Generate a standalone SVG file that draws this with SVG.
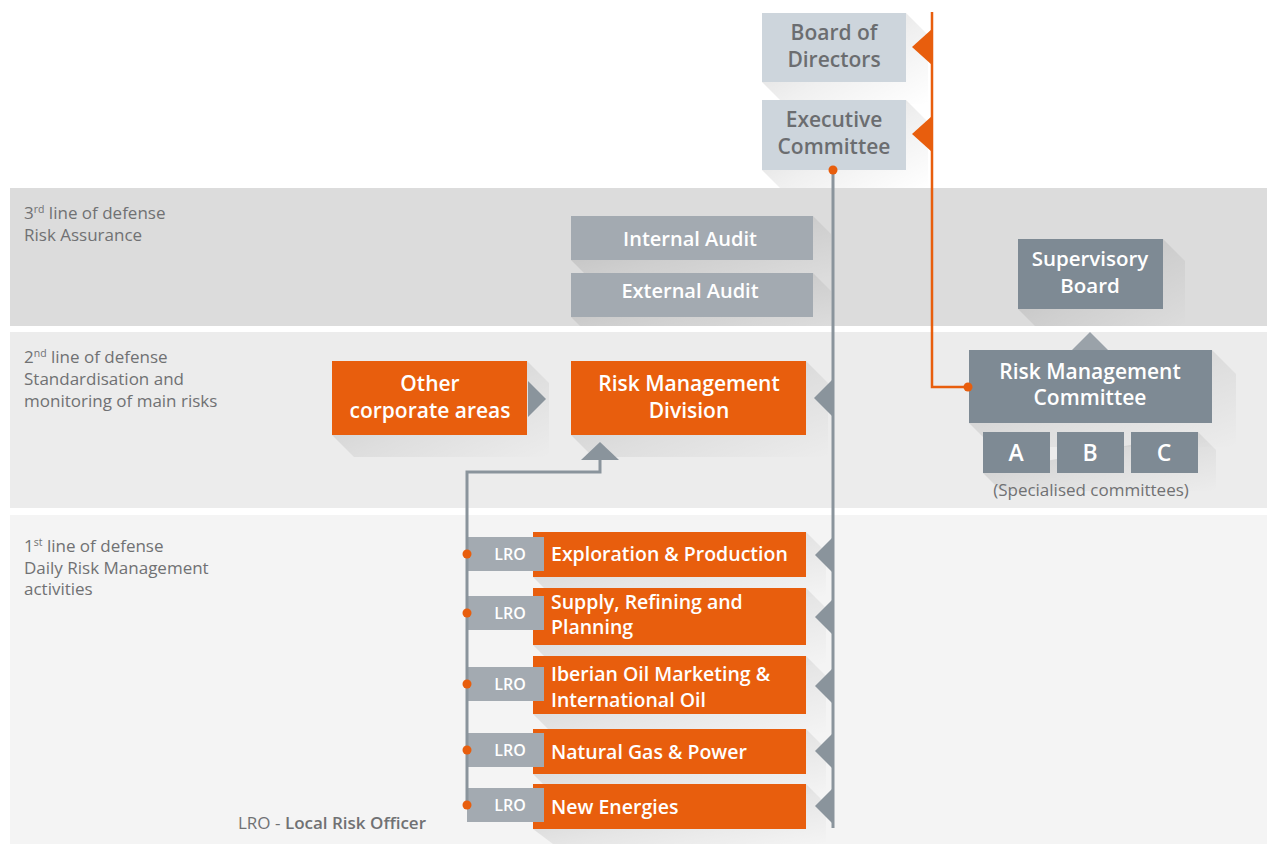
<svg xmlns="http://www.w3.org/2000/svg" width="1267" height="844" viewBox="0 0 1267 844">
<defs>
<linearGradient id="sh" x1="0" y1="0" x2="1" y2="1">
<stop offset="0" stop-color="#000" stop-opacity="0.16"/>
<stop offset="0.55" stop-color="#000" stop-opacity="0.06"/>
<stop offset="1" stop-color="#000" stop-opacity="0"/>
</linearGradient>
</defs>
<style>
.band-t{font-family:"Open Sans","Liberation Sans",sans-serif;font-size:17px;fill:#707173}
.lbl{font-family:"Open Sans","Liberation Sans",sans-serif;font-weight:600;text-anchor:middle}
.w{fill:#ffffff}
.g{fill:#6b6d70}
.biz{font-family:"Open Sans","Liberation Sans",sans-serif;font-weight:600;font-size:19.5px;fill:#ffffff}
.lro{font-family:"Open Sans","Liberation Sans",sans-serif;font-weight:600;font-size:16px;fill:#ffffff;text-anchor:middle}
.orange{fill:#e85e0d}
.light{fill:#cdd5dc}
.mid{fill:#a3aab1}
.dark{fill:#7e8a94}
.shadow{fill:url(#sh)}
.gline{stroke:#8a949c;stroke-width:3;fill:none}
.oline{stroke:#e85e0d;stroke-width:2.5;fill:none}
.gtri{fill:#8a949c}
.otri{fill:#e85e0d}
.dot{fill:#e85e0d}
</style>
<rect width="1267" height="844" fill="#ffffff"/>
<g id="bands">
<rect x="10" y="188" width="1257" height="138" fill="#dcdcdc"/>
<rect x="10" y="332" width="1257" height="176" fill="#ececec"/>
<rect x="10" y="515" width="1257" height="329" fill="#f4f4f4"/>
<text class="band-t" x="24" y="219">3<tspan font-size="10.5" dy="-6">rd</tspan><tspan dy="6"> line of defense</tspan></text>
<text class="band-t" x="24" y="241">Risk Assurance</text>
<text class="band-t" x="24" y="363">2<tspan font-size="10.5" dy="-6">nd</tspan><tspan dy="6"> line of defense</tspan></text>
<text class="band-t" x="24" y="385">Standardisation and</text>
<text class="band-t" x="24" y="407">monitoring of main risks</text>
<text class="band-t" x="24" y="552">1<tspan font-size="10.5" dy="-6">st</tspan><tspan dy="6"> line of defense</tspan></text>
<text class="band-t" x="24" y="574">Daily Risk Management</text>
<text class="band-t" x="24" y="595">activities</text>
</g>
<g id="shadows">
<polygon class="shadow" points="906,13 928,35 928,104 784,104 762,82"/>
<polygon class="shadow" points="906,100 928,122 928,188 780,188 762,170"/>
<polygon class="shadow" points="813,216 831,234 831,278 589,278 571,260"/>
<polygon class="shadow" points="813,273 831,291 831,326 580,326 571,317"/>
<polygon class="shadow" points="1163,239 1185,261 1185,326 1035,326 1018,309"/>
<polygon class="shadow" points="1212,350 1236,374 1236,447 993,447 969,423"/>
<polygon class="shadow" points="1198,432 1216,450 1216,491 1001,491 983,473"/>
<polygon class="shadow" points="527,361 549,383 549,457 354,457 332,435"/>
<polygon class="shadow" points="806,361 828,383 828,457 593,457 571,435"/>
<polygon class="shadow" points="806,532 826,552 826,597 553,597 533,577"/>
<polygon class="shadow" points="806,588 826,608 826,665 553,665 533,645"/>
<polygon class="shadow" points="806,656 826,676 826,734 553,734 533,714"/>
<polygon class="shadow" points="806,729 826,749 826,794 553,794 533,774"/>
<polygon class="shadow" points="806,784 826,804 826,844 553,844 533,829"/>
</g>
<g id="board">
<rect class="light" x="762" y="13" width="144" height="69"/>
<text class="lbl g" font-size="21" x="834" y="40">Board of</text>
<text class="lbl g" font-size="21" x="834" y="67">Directors</text>
</g>
<g id="executive">
<rect class="light" x="762" y="100" width="144" height="70"/>
<text class="lbl g" font-size="21" x="834" y="127">Executive</text>
<text class="lbl g" font-size="21" x="834" y="154">Committee</text>
</g>
<g id="internal-audit">
<rect class="mid" x="571" y="216" width="242" height="44"/>
<text class="lbl w" font-size="20" x="690" y="246">Internal Audit</text>
</g>
<g id="external-audit">
<rect class="mid" x="571" y="273" width="242" height="44"/>
<text class="lbl w" font-size="20" x="690" y="298">External Audit</text>
</g>
<g id="supervisory">
<rect class="dark" x="1018" y="239" width="145" height="70"/>
<text class="lbl w" font-size="20.5" x="1090" y="266">Supervisory</text>
<text class="lbl w" font-size="20.5" x="1090" y="293">Board</text>
</g>
<g id="rmc">
<rect class="dark" x="969" y="350" width="243" height="73"/>
<text class="lbl w" font-size="21" x="1090" y="379">Risk Management</text>
<text class="lbl w" font-size="21" x="1090" y="405">Committee</text>
</g>
<g id="committee-a">
<rect class="dark" x="983" y="432" width="67" height="41"/>
<text class="lbl w" font-size="23" x="1016" y="461">A</text>
</g>
<g id="committee-b">
<rect class="dark" x="1057" y="432" width="67" height="41"/>
<text class="lbl w" font-size="23" x="1090" y="461">B</text>
</g>
<g id="committee-c">
<rect class="dark" x="1131" y="432" width="67" height="41"/>
<text class="lbl w" font-size="23" x="1164" y="461">C</text>
</g>
<text class="band-t" text-anchor="middle" x="1091" y="496">(Specialised committees)</text>
<g id="other-corporate">
<rect class="orange" x="332" y="361" width="195" height="74"/>
<text class="lbl w" font-size="21" x="430" y="391">Other</text>
<text class="lbl w" font-size="21" x="430" y="418">corporate areas</text>
</g>
<g id="rmd">
<rect class="orange" x="571" y="361" width="235" height="74"/>
<text class="lbl w" font-size="21" x="689" y="391">Risk Management</text>
<text class="lbl w" font-size="21" x="689" y="418">Division</text>
</g>
<g id="ep">
<rect class="orange" x="533" y="532" width="273" height="45"/>
<rect class="mid" x="467" y="537" width="77" height="34"/>
<text class="lro" x="510" y="560">LRO</text>
<text class="biz" x="551" y="561">Exploration &amp; Production</text>
</g>
<g id="supply">
<rect class="orange" x="533" y="588" width="273" height="57"/>
<rect class="mid" x="467" y="596" width="77" height="34"/>
<text class="lro" x="510" y="619">LRO</text>
<text class="biz" x="551" y="609">Supply, Refining and</text>
<text class="biz" x="551" y="634">Planning</text>
</g>
<g id="iberian">
<rect class="orange" x="533" y="656" width="273" height="58"/>
<rect class="mid" x="467" y="667" width="77" height="34"/>
<text class="lro" x="510" y="690">LRO</text>
<text class="biz" font-size="19" x="551" y="681">Iberian Oil Marketing &amp;</text>
<text class="biz" font-size="19" x="551" y="707">International Oil</text>
</g>
<g id="gas">
<rect class="orange" x="533" y="729" width="273" height="45"/>
<rect class="mid" x="467" y="733" width="77" height="34"/>
<text class="lro" x="510" y="756">LRO</text>
<text class="biz" x="551" y="759">Natural Gas &amp; Power</text>
</g>
<g id="new-energies">
<rect class="orange" x="533" y="784" width="273" height="45"/>
<rect class="mid" x="467" y="788" width="77" height="34"/>
<text class="lro" x="510" y="811">LRO</text>
<text class="biz" x="551" y="814">New Energies</text>
</g>
<text class="band-t" x="238" y="829">LRO - <tspan font-weight="600">Local Risk Officer</tspan></text>
<g id="connectors">
<polyline class="oline" points="932,12 932,387 968,387"/>
<polygon class="otri" points="912,47 932,29 932,65"/>
<polygon class="otri" points="912,134 932,116 932,152"/>
<circle class="dot" cx="968" cy="387" r="4.5"/>
<line class="gline" x1="833" y1="170" x2="833" y2="828"/>
<circle class="dot" cx="833" cy="170" r="4.5"/>
<polygon class="gtri" points="814,398 833,379 833,417"/>
<polygon class="gtri" points="815,555 833,537 833,573"/>
<polygon class="gtri" points="815,617 833,599 833,635"/>
<polygon class="gtri" points="815,686 833,668 833,704"/>
<polygon class="gtri" points="815,751 833,733 833,769"/>
<polygon class="gtri" points="815,806 833,788 833,824"/>
<polygon class="gtri" points="546,399 528,381 528,417"/>
<polyline class="gline" points="600,460 600,472 467,472 467,806"/>
<polygon class="gtri" points="600,442 581,460 619,460"/>
<polygon fill="#9aa2a9" points="1090,332 1072,350 1108,350"/>
<circle class="dot" cx="467" cy="554" r="4.5"/>
<circle class="dot" cx="467" cy="613" r="4.5"/>
<circle class="dot" cx="467" cy="684" r="4.5"/>
<circle class="dot" cx="467" cy="750" r="4.5"/>
<circle class="dot" cx="467" cy="805" r="4.5"/>
</g>
</svg>
